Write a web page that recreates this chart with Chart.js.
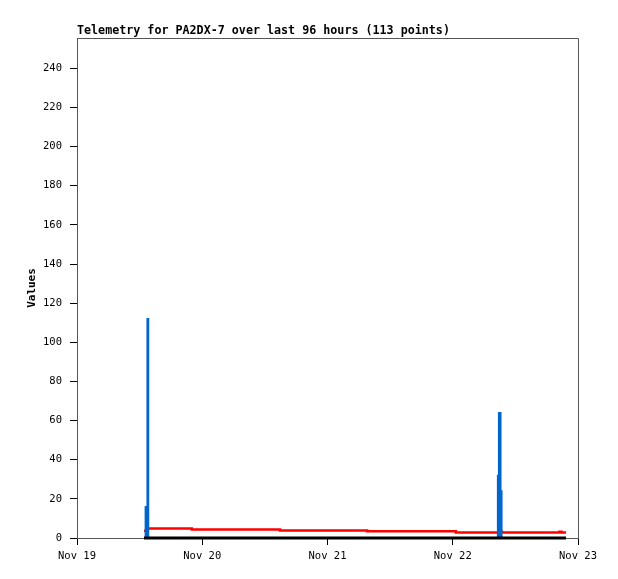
<!DOCTYPE html>
<html>
<head>
<meta charset="utf-8">
<script src="https://cdn.jsdelivr.net/npm/chart.js@4/dist/chart.umd.min.js"></script>
<style>
  html, body { margin: 0; padding: 0; background: #fff; }
  #wrap { width: 618px; height: 579px; }
</style>
</head>
<body>
<div id="wrap"><canvas id="telemetry-chart" width="618" height="579"></canvas></div>
<script>
const chartTitle = 'Telemetry for PA2DX-7 over last 96 hours (113 points)';
const dayLabels = ['Nov 19', 'Nov 20', 'Nov 21', 'Nov 22', 'Nov 23'];

// hours since Nov 19 00:00
const redHours  = [12.84, 13.5, 22.0, 38.9, 55.6, 72.6, 81.15, 81.45, 92.45, 92.85, 93.7];
const redValues = [3.7,   4.8,  4.3,  3.8,  3.4,  2.8,  3.2,   2.8,   3.2,   2.8,   2.8];

const blueHours  = [12.84, 13.1, 13.45, 13.7, 80.5, 80.6, 80.8, 81.2, 81.4, 93.7];
const blueValues = [0,     16,   112,   0,    0,    32,   64,   24,   0,    0];

const blackHours  = [12.84, 93.7];
const blackValues = [0,     0];

function toPoints(xs, ys) {
    return xs.map((x, i) => ({x: x, y: ys[i]}));
}

const monoFont = '"DejaVu Sans Mono", "Liberation Mono", monospace';

const framePlugin = {
    id: 'frame',
    afterDraw(chart) {
        const {ctx, chartArea} = chart;
        ctx.save();
        ctx.strokeStyle = '#555';
        ctx.lineWidth = 1;
        ctx.beginPath();
        ctx.moveTo(chartArea.left + 0.5, chartArea.bottom);
        ctx.lineTo(chartArea.left + 0.5, chartArea.top + 0.5);
        ctx.lineTo(chartArea.right + 0.5, chartArea.top + 0.5);
        ctx.lineTo(chartArea.right + 0.5, chartArea.bottom);
        ctx.stroke();
        ctx.fillStyle = '#000';
        ctx.font = 'bold 11.7px ' + monoFont;
        ctx.textBaseline = 'middle';
        ctx.textAlign = 'left';
        ctx.fillText(chartTitle, chartArea.left, 31);
        ctx.restore();
    }
};

const ctx = document.getElementById('telemetry-chart').getContext('2d');
new Chart(ctx, {
    type: 'line',
    data: {
        datasets: [
            {
                label: 'black',
                data: toPoints(blackHours, blackValues),
                borderColor: '#000',
                borderWidth: 3,
                pointRadius: 0,
                clip: false
            },
            {
                label: 'blue',
                data: toPoints(blueHours, blueValues),
                borderColor: '#0066cc',
                backgroundColor: '#0066cc',
                fill: 'origin',
                borderWidth: 1.5,
                pointRadius: 0,
                stepped: true
            },
            {
                label: 'red',
                data: toPoints(redHours, redValues),
                borderColor: '#ff0000',
                borderWidth: 2.5,
                pointRadius: 0,
                stepped: true
            }
        ]
    },
    options: {
        responsive: false,
        animation: false,
        layout: {padding: {top: 38, right: 40, left: 0, bottom: 0}},
        plugins: {
            legend: {display: false},
            tooltip: {enabled: false},
            title: {display: false}
        },
        scales: {
            x: {
                type: 'linear',
                min: 0,
                max: 96,
                afterFit: (scale) => { scale.height = 41; },
                border: {color: '#555'},
                grid: {drawOnChartArea: false, tickLength: 7, color: '#000'},
                ticks: {
                    stepSize: 24,
                    maxRotation: 0,
                    autoSkip: false,
                    padding: 5,
                    color: '#000',
                    font: {family: monoFont, size: 10.5},
                    callback: (value) => dayLabels[Math.round(value / 24)]
                }
            },
            y: {
                min: 0,
                max: 255.5,
                afterFit: (scale) => { scale.width = 77; },
                border: {color: '#555'},
                grid: {drawOnChartArea: false, tickLength: 7, color: '#000'},
                title: {
                    display: true,
                    text: 'Values',
                    color: '#000',
                    padding: {top: 26, bottom: 0},
                    font: {family: monoFont, size: 11, weight: 'bold'}
                },
                ticks: {
                    stepSize: 20,
                    includeBounds: false,
                    padding: 8,
                    color: '#000',
                    font: {family: monoFont, size: 10.5}
                }
            }
        }
    },
    plugins: [framePlugin]
});
</script>
</body>
</html>
